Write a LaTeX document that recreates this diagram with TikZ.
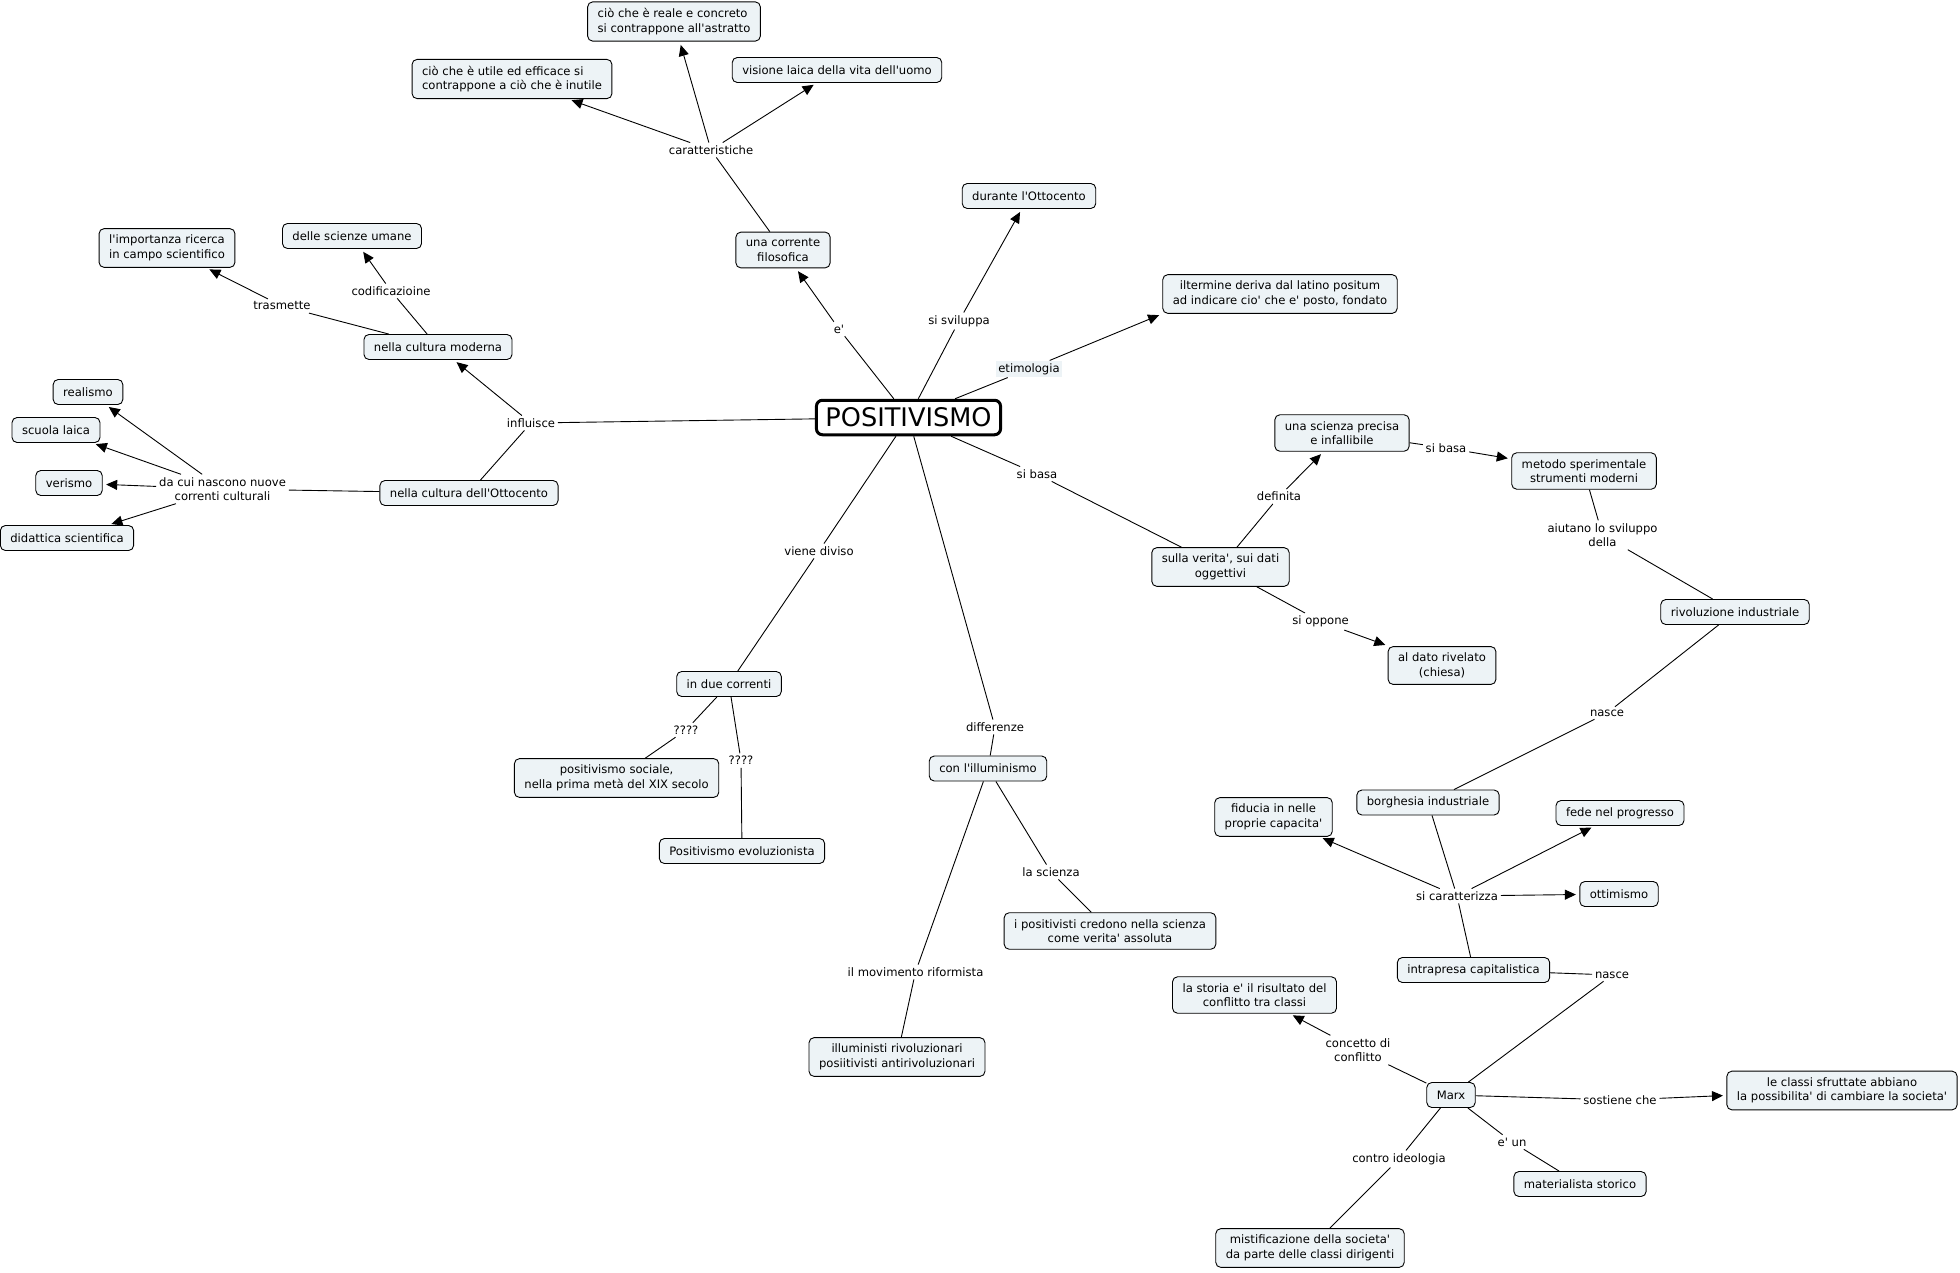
\documentclass[tikz,border=0pt]{standalone}
\usepackage{fontspec}
\setmainfont{DejaVu Sans}[Ligatures=TeXOff]
\usetikzlibrary{arrows.meta}
\definecolor{cmapfill}{RGB}{237,243,246}

\begin{document}
\begin{tikzpicture}[x=1pt,y=-1pt,line width=0.9pt,
every node/.style={font=\fontsize{11.6}{14.5}\selectfont,align=center},
concept/.style={draw,rounded corners=5pt,fill=cmapfill,inner xsep=10pt,inner ysep=6.5pt,minimum height=25pt},
link/.style={fill=white,inner sep=2.5pt},
arr/.style={-{Triangle[length=11pt,width=10pt]},shorten >=3.5pt}]
\useasboundingbox(0,0)rectangle(1960,1272);
\node[draw,line width=3pt,rounded corners=6pt,fill=white,font=\fontsize{25.6}{30}\selectfont,
inner xsep=9pt,inner ysep=8pt,text height=18.5pt,text depth=0pt](pos)at(908.5,417.5){POSITIVISMO};
\node[concept,align=left](reale)at(674,21.5){ciò che è reale e concreto\\si contrappone all'astratto};
\node[concept,align=left](utile)at(512,79){ciò che è utile ed efficace si\\contrappone a ciò che è inutile};
\node[concept](visione)at(837,70){visione laica della vita dell'uomo};
\node[link](carat)at(711,150){caratteristiche};
\node[concept](corrente)at(783,250){una corrente\\filosofica};
\node[link](ee)at(839,329){e'};
\node[concept](importanza)at(167,248){l'importanza ricerca\\in campo scientifico};
\node[concept](umane)at(352,236){delle scienze umane};
\node[link](trasm)at(282,306){trasmette};
\node[link](codif)at(391,291){codificazioine};
\node[concept](moderna)at(438,347){nella cultura moderna};
\node[concept](realismo)at(88,392){realismo};
\node[concept](scuola)at(56,430){scuola laica};
\node[concept](verismo)at(69,483){verismo};
\node[concept](didattica)at(67,538){didattica scientifica};
\node[link](nascono)at(222.5,489){da cui nascono nuove\\correnti culturali};
\node[concept](ottocento)at(469,493){nella cultura dell'Ottocento};
\node[link](influisce)at(531,423){influisce};
\node[link](sviluppa)at(959,321){si sviluppa};
\node[concept](durante)at(1029,196){durante l'Ottocento};
\node[concept](termine)at(1280,294){iltermine deriva dal latino positum\\ad indicare cio' che e' posto, fondato};
\node[link,fill=cmapfill](etim)at(1029,369){etimologia};
\node[link](basa)at(1037,474){si basa};
\node[concept](precisa)at(1342,433){una scienza precisa\\e infallibile};
\node[link](basab)at(1446,448){si basa};
\node[concept](metodo)at(1584,471){metodo sperimentale\\strumenti moderni};
\node[link](aiutano)at(1602.5,535){aiutano lo sviluppo\\della};
\node[concept](rivoluzione)at(1735,612){rivoluzione industriale};
\node[link](definita)at(1279,496.5){definita};
\node[concept](verita)at(1220.5,567){sulla verita', sui dati\\oggettivi};
\node[link](oppone)at(1320.6,621.5){si oppone};
\node[concept](rivelato)at(1442,665.5){al dato rivelato\\(chiesa)};
\node[link](nascea)at(1607,713){nasce};
\node[concept](borghesia)at(1428,802.5){borghesia industriale};
\node[concept](fiducia)at(1273.5,817){fiducia in nelle\\proprie capacita'};
\node[concept](fede)at(1620,813){fede nel progresso};
\node[link](caratt)at(1457,896){si caratterizza};
\node[concept](ottimismo)at(1619,894){ottimismo};
\node[concept](intrapresa)at(1473.5,970){intrapresa capitalistica};
\node[link](nasceb)at(1612,975){nasce};
\node[concept](storia)at(1254.5,995){la storia e' il risultato del\\conflitto tra classi};
\node[link](conflitto)at(1358,1050){concetto di\\conflitto};
\node[concept](marx)at(1451,1095){Marx};
\node[link](sostiene)at(1620,1100){sostiene che};
\node[concept](classi)at(1842,1090.5){le classi sfruttate abbiano\\la possibilita' di cambiare la societa'};
\node[link](eun)at(1512,1142){e' un};
\node[concept](materialista)at(1580,1184){materialista storico};
\node[link](ideologia)at(1399,1159){contro ideologia};
\node[concept](mistif)at(1310,1248){mistificazione della societa'\\da parte delle classi dirigenti};
\node[link](diviso)at(819,551){viene diviso};
\node[concept](correnti)at(729,684){in due correnti};
\node[link](qa)at(686,730){????};
\node[concept](sociale)at(616.6,778){positivismo sociale,\\ nella prima metà del XIX secolo};
\node[link](qb)at(741,760.5){????};
\node[concept](evol)at(742,851){Positivismo evoluzionista};
\node[link](differenze)at(995,727){differenze};
\node[concept](illum)at(988,768.5){con l'illuminismo};
\node[link](scienza)at(1051,872){la scienza};
\node[concept](credono)at(1110,931){i positivisti credono nella scienza\\come verita' assoluta};
\node[link](riform)at(915.5,972){il movimento riformista};
\node[concept](rivol)at(897,1057){illuministi rivoluzionari\\posiitivisti antirivoluzionari};
\foreach \a/\b in{pos/ee,corrente/carat,pos/sviluppa,pos/etim,pos/basa,basa/verita,verita/definita,
verita/oppone,precisa/basab,metodo/aiutano,aiutano/rivoluzione,rivoluzione/nascea,nascea/borghesia,
borghesia/caratt,intrapresa/caratt,intrapresa/nasceb,nasceb/marx,marx/conflitto,marx/sostiene,
marx/eun,eun/materialista,marx/ideologia,ideologia/mistif,pos/influisce,ottocento/influisce,
moderna/trasm,moderna/codif,ottocento/nascono,pos/diviso,diviso/correnti,correnti/qa,qa/sociale,
correnti/qb,qb/evol,pos/differenze,differenze/illum,illum/scienza,scienza/credono,illum/riform,riform/rivol}
\draw(\a)--(\b);
\foreach \a/\b in{ee/corrente,carat/reale,carat/utile,carat/visione,sviluppa/durante,etim/termine.south west,
definita/precisa,oppone/rivelato,basab/metodo,caratt/fiducia,caratt/fede,caratt/ottimismo,
conflitto/storia,sostiene/classi,influisce/moderna,trasm/importanza,codif/umane,nascono/realismo,
nascono/scuola,nascono/verismo,nascono/didattica}
\draw[arr](\a)--(\b);
\end{tikzpicture}
\end{document}
